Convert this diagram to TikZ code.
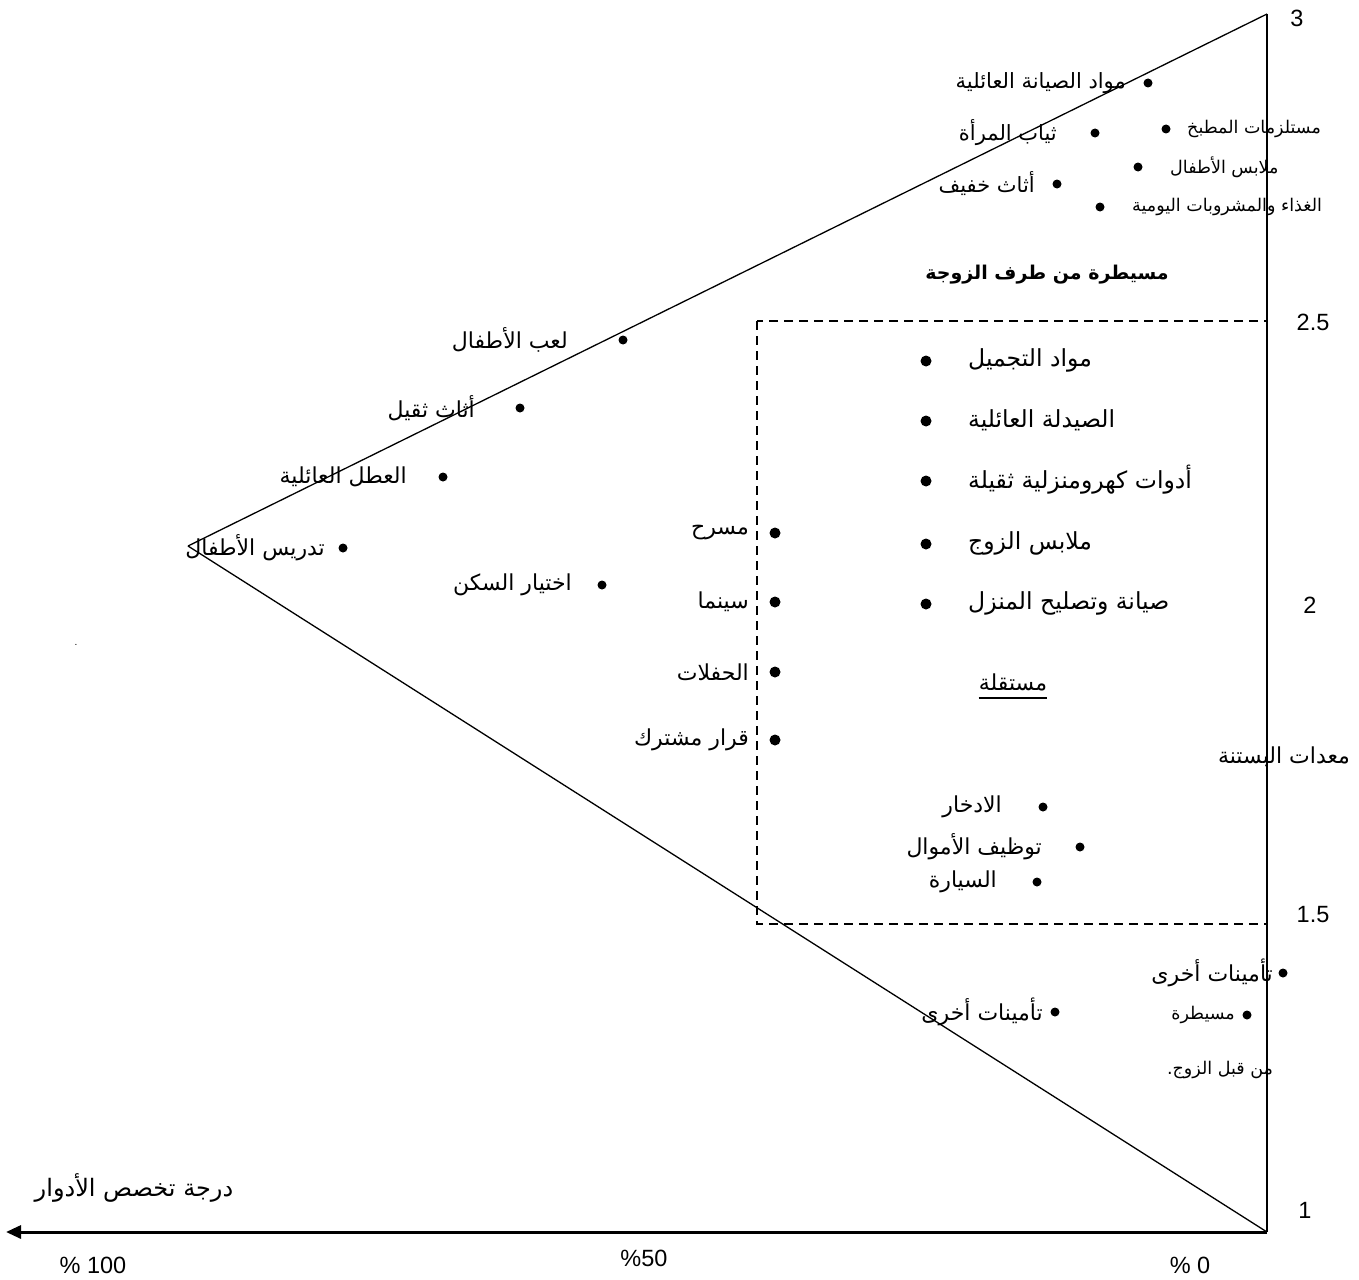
\documentclass[tikz,border=0pt]{standalone}
\usepackage{fontspec}
\setmainfont{Liberation Sans}
\newfontfamily\arabicfont[Script=Arabic]{DejaVu Sans}
\TeXXeTstate=1
\usetikzlibrary{arrows.meta}
\newcommand{\rtltext}[1]{\arabicfont\beginR #1\endR}
\begin{document}
\begin{tikzpicture}[x=1pt,y=-1pt,
  dot/.style={circle,fill=black,inner sep=0pt,minimum size=11pt},
  sdot/.style={circle,fill=black,inner sep=0pt,minimum size=9pt},
  txt/.style={inner sep=0pt},
  small/.style={txt,font=\fontsize{17.5}{20}\selectfont},
  medsmall/.style={txt,font=\fontsize{21}{24}\selectfont},
  med/.style={txt,font=\fontsize{22}{26}\selectfont},
  big/.style={txt,font=\fontsize{23.5}{28}\selectfont},
  num/.style={txt,font=\fontsize{23.5}{28}\selectfont},
  edge/.style={line width=1.3pt},
  boxline/.style={line width=1.8pt,dash pattern=on 9pt off 6pt}]
\useasboundingbox (0,0) rectangle (1359,1279);

% triangle corners and axis end
\coordinate (A) at (1267,14);
\coordinate (B) at (188,546);
\coordinate (C) at (1267,1232);
\coordinate (axend) at (6,1232);

% dashed region
\draw[boxline] (757,321) rectangle (1267,924);

% triangle
\draw[edge] (B) -- (A);
\draw[edge] (B) -- (C);
\draw[edge] (A) -- (C);

% horizontal axis
\draw[line width=3pt,-{Triangle[length=15pt,width=13pt]}] (C) -- (axend);

% scale numbers
\node[num] (n3) at (1297,18) {3};
\node[num] (n25) at (1313,322) {2.5};
\node[num] (n2) at (1310,605) {2};
\node[num] (n15) at (1313,915) {1.5};
\node[num] (n1) at (1305,1210) {1};
\node[num] (p100) at (93,1265) {\% 100};
\node[num] (p50) at (644,1258) {\%50};
\node[num] (p0) at (1190,1265) {\% 0};
\node[txt,font=\fontsize{24}{28}\selectfont] (axlab) at (134,1188) {\rtltext{درجة تخصص الأدوار}};
\node[txt] (stray) at (76,645) {.};

% upper cluster
\node[sdot] (c1d) at (1148,83) {};
\node[medsmall,anchor=east] (c1) at (1126,83) {\rtltext{مواد الصيانة العائلية}};
\node[sdot] (c2d) at (1166,129) {};
\node[small,anchor=west] (c2) at (1187,129) {\rtltext{مستلزمات المطبخ}};
\node[sdot] (c3d) at (1095,133) {};
\node[medsmall,anchor=east] (c3) at (1057,133) {\rtltext{ثياب المرأة}};
\node[sdot] (c4d) at (1138,167) {};
\node[small,anchor=west] (c4) at (1170,167) {\rtltext{ملابس الأطفال}};
\node[sdot] (c5d) at (1057,184) {};
\node[medsmall,anchor=east] (c5) at (1035,184) {\rtltext{أثاث خفيف}};
\node[sdot] (c6d) at (1100,207) {};
\node[small,anchor=west] (c6) at (1132,207) {\rtltext{الغذاء والمشروبات اليومية}};

\node[txt,font=\fontsize{19}{23}\selectfont\bfseries] (wife) at (1047,275) {\rtltext{مسيطرة من طرف الزوجة}};

% items inside the dashed region
\node[dot] (b1d) at (926,361) {};
\node[big,anchor=west] (b1) at (968,360) {\rtltext{مواد التجميل}};
\node[dot] (b2d) at (926,421) {};
\node[big,anchor=west] (b2) at (968,420) {\rtltext{الصيدلة العائلية}};
\node[dot] (b3d) at (926,481) {};
\node[big,anchor=west] (b3) at (968,480) {\rtltext{أدوات كهرومنزلية ثقيلة}};
\node[dot] (b4d) at (926,544) {};
\node[big,anchor=west] (b4) at (968,543) {\rtltext{ملابس الزوج}};
\node[dot] (b5d) at (926,604) {};
\node[big,anchor=west] (b5) at (968,603) {\rtltext{صيانة وتصليح المنزل}};

\node[med] (indep) at (1013,682) {\rtltext{مستقلة}};
\draw[line width=1.8pt] ([yshift=-7pt]indep.south west) -- ([yshift=-7pt]indep.south east);

% items along the dashed edge
\node[dot] (e1d) at (775,533) {};
\node[med,anchor=east] (e1) at (749,533) {\rtltext{مسرح}};
\node[dot] (e2d) at (775,602) {};
\node[med,anchor=east] (e2) at (749,602) {\rtltext{سينما}};
\node[dot] (e3d) at (775,672) {};
\node[med,anchor=east] (e3) at (749,672) {\rtltext{الحفلات}};
\node[dot] (e4d) at (775,740) {};
\node[med,anchor=east] (e4) at (749,740) {\rtltext{قرار مشترك}};

\node[sdot] (f1d) at (1043,807) {};
\node[med,anchor=east] (f1) at (1002,807) {\rtltext{الادخار}};
\node[sdot] (f2d) at (1080,847) {};
\node[med,anchor=east] (f2) at (1042,847) {\rtltext{توظيف الأموال}};
\node[sdot] (f3d) at (1037,882) {};
\node[med,anchor=east] (f3) at (997,882) {\rtltext{السيارة}};

% items near the upper edge
\node[sdot] (l1d) at (623,340) {};
\node[med,anchor=east] (l1) at (568,340) {\rtltext{لعب الأطفال}};
\node[sdot] (l2d) at (520,408) {};
\node[med,anchor=east] (l2) at (475,408) {\rtltext{أثاث ثقيل}};
\node[sdot] (l3d) at (443,477) {};
\node[med,anchor=east] (l3) at (407,477) {\rtltext{العطل العائلية}};
\node[sdot] (l4d) at (343,548) {};
\node[med,anchor=east] (l4) at (325,548) {\rtltext{تدريس الأطفال}};
\node[sdot] (l5d) at (602,585) {};
\node[med,anchor=east] (l5) at (572,585) {\rtltext{اختيار السكن}};

% right side labels
\node[med] (garden) at (1284,757) {\rtltext{معدات البستنة}};
\node[sdot] (g1d) at (1283,973) {};
\node[med,anchor=east] (g1) at (1273,973) {\rtltext{تأمينات أخرى}};
\node[sdot] (g2d) at (1055,1012) {};
\node[med,anchor=east] (g2) at (1043,1012) {\rtltext{تأمينات أخرى}};
\node[sdot] (h1d) at (1247,1015) {};
\node[small,anchor=east] (h1) at (1235,1015) {\rtltext{مسيطرة}};
\node[small] (h2) at (1220,1070) {\rtltext{من قبل الزوج.}};
\end{tikzpicture}
\end{document}
